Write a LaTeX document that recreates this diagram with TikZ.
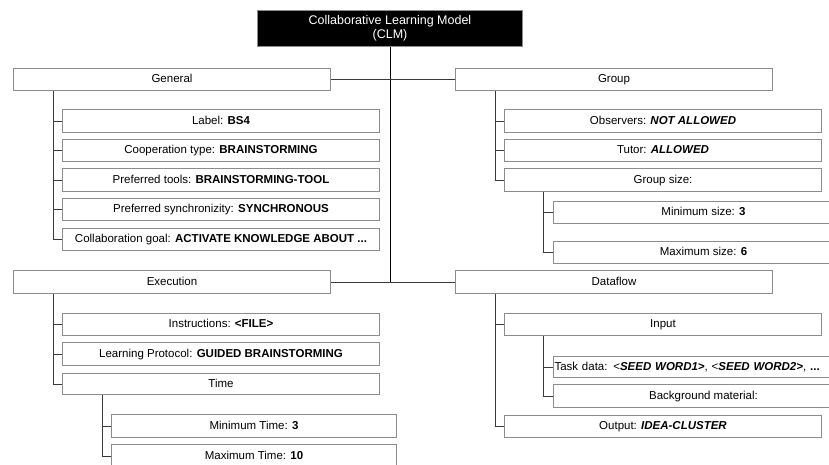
\documentclass[tikz,border=0pt]{standalone}
\usepackage{fontspec}
\setmainfont{Liberation Sans}
\begin{document}
\begin{tikzpicture}[x=1pt,y=-1pt,
  every node/.style={font=\fontsize{11.5}{13}\selectfont},
  bx/.style={draw=boxgray, fill=white, line width=1pt, inner sep=0pt,
    anchor=north west, minimum height=22pt, text height=8.5pt, text depth=2pt},
  wide/.style={bx, minimum width=317pt},
  sub/.style={bx, minimum width=300pt},
  tsub/.style={bx, minimum width=285pt},
  head/.style={draw=boxgray, fill=black, text=white, line width=1pt,
    inner sep=0pt, anchor=north west, minimum width=265pt, minimum height=36pt,
    align=center, font=\fontsize{12.5}{14}\selectfont},
  link/.style={draw=linkgray, line width=1pt},
  trunk/.style={draw=black, line width=1pt}]
\definecolor{boxgray}{HTML}{8C8C8C}
\definecolor{linkgray}{HTML}{3A3A3A}
\useasboundingbox (0,0) rectangle (829,464);

% root
\node[head] (clm) at (257,10) {Collaborative Learning Model\\(CLM)};

% first level
\node[wide] (gen) at (13,68) {General};
\node[wide] (grp) at (455,68) {Group};
\node[wide,minimum height=23pt] (exe) at (13,270) {Execution};
\node[wide,minimum height=23pt] (df) at (455,270) {Dataflow};

% General
\node[wide,minimum height=23pt] (lab) at (62,109) {Label: \textbf{BS4}};
\node[wide] (coop) at (62,139) {Cooperation type: \textbf{BRAINSTORMING}};
\node[wide,minimum height=23pt] (tools) at (62,168) {Preferred tools: \textbf{BRAINSTORMING-TOOL}};
\node[wide] (sync) at (62,198) {Preferred synchronizity: \textbf{SYNCHRONOUS}};
\node[wide] (goal) at (62,228) {Collaboration goal: \textbf{ACTIVATE KNOWLEDGE ABOUT ...}};

% Group
\node[wide,minimum height=23pt] (obs) at (504,109) {Observers: \textbf{\textit{NOT ALLOWED}}};
\node[wide] (tut) at (504,139) {Tutor: \textbf{\textit{ALLOWED}}};
\node[wide,minimum height=23pt] (gsz) at (504,168) {Group size:};
\node[sub] (gmin) at (553,201) {Minimum size: \textbf{3}};
\node[sub] (gmax) at (553,241) {Maximum size: \textbf{6}};

% Execution
\node[wide] (ins) at (62,313) {Instructions: \textbf{<FILE>}};
\node[wide,minimum height=23pt] (prot) at (62,342) {Learning Protocol: \textbf{GUIDED BRAINSTORMING}};
\node[wide,minimum height=21pt] (time) at (62,373) {Time};
\node[tsub,minimum height=23pt] (tmin) at (111,414) {Minimum Time: \textbf{3}};
\node[tsub,minimum height=23pt] (tmax) at (111,444) {Maximum Time: \textbf{10}};

% Dataflow
\node[wide] (inp) at (504,313) {Input};
\node[sub,minimum height=21pt,text width=298pt,align=left] (task) at (553,356)
  {Task data: <\textbf{\textit{SEED WORD1>}}, <\textbf{\textit{SEED WORD2>}}, \textbf{...}};
\node[sub,minimum height=23pt] (bgm) at (553,384) {Background material:};
\node[wide] (out) at (504,415) {Output: \textbf{\textit{IDEA-CLUSTER}}};

% root trunk and first-level links
\draw[trunk] (clm.south) -- (clm.south |- exe.east);
\draw[link] (gen.east) -- (grp.west);
\draw[link] (exe.east) -- (df.west);

% General branch
\draw[link] ([xshift=40pt]gen.south west) |- (goal.west);
\foreach \n in {lab,coop,tools,sync}
  \draw[link] ([xshift=40pt]gen.south west) |- (\n.west);

% Group branch
\draw[link] ([xshift=40pt]grp.south west) |- (gsz.west);
\foreach \n in {obs,tut}
  \draw[link] ([xshift=40pt]grp.south west) |- (\n.west);
\draw[link] ([xshift=39pt]gsz.south west) |- (gmax.west);
\draw[link] ([xshift=39pt]gsz.south west) |- (gmin.west);

% Execution branch
\draw[link] ([xshift=40pt]exe.south west) |- (time.west);
\foreach \n in {ins,prot}
  \draw[link] ([xshift=40pt]exe.south west) |- (\n.west);
\draw[link] ([xshift=40pt]time.south west) |- (tmax.west);
\draw[link] ([xshift=40pt]time.south west) |- (tmin.west);

% Dataflow branch
\draw[link] ([xshift=40pt]df.south west) |- (out.west);
\draw[link] ([xshift=40pt]df.south west) |- (inp.west);
\draw[link] ([xshift=39pt]inp.south west) |- (bgm.west);
\draw[link] ([xshift=39pt]inp.south west) |- (task.west);
\end{tikzpicture}
\end{document}
